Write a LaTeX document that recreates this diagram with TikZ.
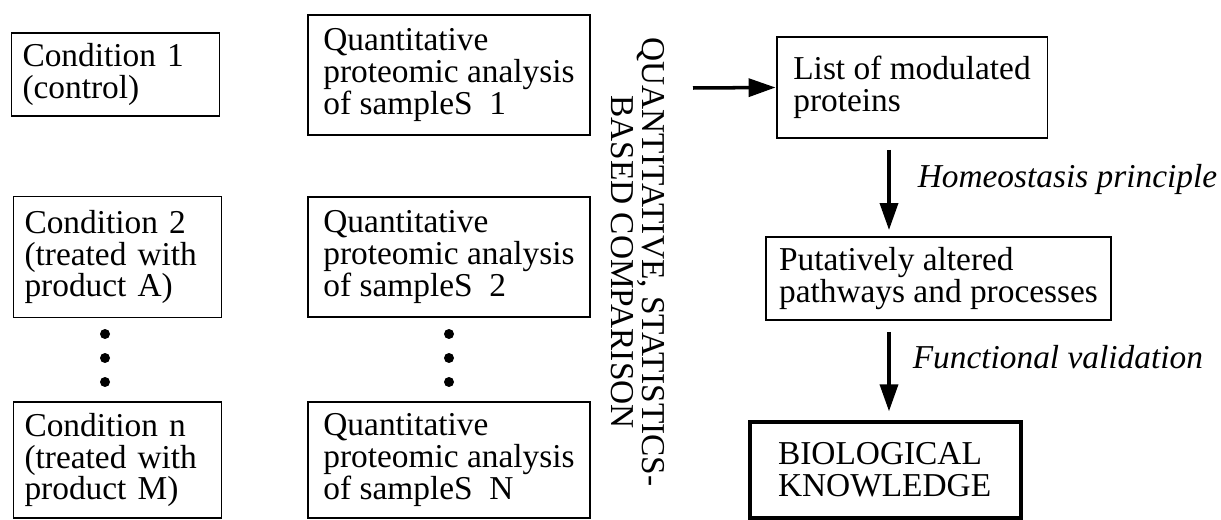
\documentclass[tikz,border=0pt]{standalone}
\usepackage{fontspec}
\setmainfont{Liberation Serif}
\usepackage{tikz}
\usetikzlibrary{positioning}
\usetikzlibrary{arrows.meta}

\tikzset{
  procbox/.style={draw, line width=1.1pt, align=left, inner sep=0pt, font=\fontsize{19}{18}\selectfont},
  condbox/.style={procbox, text width=3.72cm, inner xsep=0.22cm, minimum height=2.42cm},
  quantbox/.style={procbox, minimum width=5.64cm, minimum height=2.4cm},
  flowarrow/.style={line width=2pt, -{Triangle[length=0.54cm, width=0.36cm]}},
  steplabel/.style={font=\fontsize{19}{18}\selectfont\itshape, inner sep=0.12cm},
}

\begin{document}
\begin{tikzpicture}[x=0.02cm, y=-0.02cm]
\useasboundingbox (0,0) rectangle (1221,520);

% conditions
\node[condbox, minimum height=1.66cm] (cond1) at (115.5,74.5) {Condition 1\\(control)};
\node[condbox] (cond2) at (117.5,257) {Condition 2\\(treated with\\product A)};
\node[condbox, minimum height=2.32cm] (condn) at (117.5,460) {Condition n\\(treated with\\product M)};

% analyses
\node[quantbox] (quant1) at (449,75) {Quantitative\\proteomic analysis\\of sampleS~~1};
\node[quantbox] (quant2) at (449,257) {Quantitative\\proteomic analysis\\of sampleS~~2};
\node[quantbox, minimum height=2.32cm] (quantn) at (449,460) {Quantitative\\proteomic analysis\\of sampleS~~N};

% dots
\foreach \y in {334,358,382}
{
\fill (105,\y) circle [radius=0.1cm];
\fill (449,\y) circle [radius=0.1cm];
}

\node[rotate=-90, align=center, font=\fontsize{19}{18}\selectfont] (cmp) at (638,262) {QUANTITATIVE, STATISTICS-\\BASED COMPARISON};

% results
\node[procbox, minimum width=5.42cm, minimum height=2.02cm] (list) at (912,87.5) {List of modulated\\proteins};
\node[procbox, minimum width=6.9cm, minimum height=1.66cm] (putative) at (938.5,278.5) {Putatively altered\\pathways and processes};
\node[procbox, line width=1.9pt, text width=4.3cm, inner xsep=0.56cm, minimum height=1.92cm] (knowledge) at (885.5,470) {BIOLOGICAL\\KNOWLEDGE};

\coordinate (cmpout) at (693,88);
\coordinate (axis) at (889,0);

\draw[flowarrow] (cmpout) -- (list.west);
\draw[flowarrow, shorten <=0.22cm, shorten >=0.12cm] (list.south -| axis) -- node[steplabel, pos=0.42, right=0.42cm] (homeo) {Homeostasis principle} (putative.north -| axis);
\draw[flowarrow, shorten <=0.22cm, shorten >=0.18cm] (putative.south -| axis) -- node[steplabel, pos=0.36, right=0.32cm] (valid) {Functional validation} (knowledge.north -| axis);

\end{tikzpicture}
\end{document}
